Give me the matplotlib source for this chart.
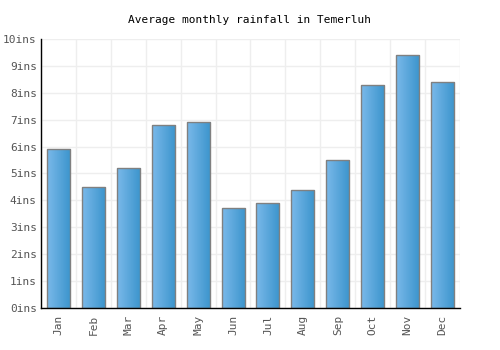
import numpy as np
import matplotlib
matplotlib.use('Agg')
import matplotlib.pyplot as plt
from matplotlib.colors import LinearSegmentedColormap

months = ['Jan', 'Feb', 'Mar', 'Apr', 'May', 'Jun',
          'Jul', 'Aug', 'Sep', 'Oct', 'Nov', 'Dec']
rainfall = [5.9, 4.5, 5.2, 6.8, 6.9, 3.7, 3.9, 4.4, 5.5, 8.3, 9.4, 8.4]
yticks = list(range(0, 11))
ylabels = [f'{v}ins' for v in yticks]

plt.rcParams['font.family'] = ['DejaVu Sans Mono']

fig = plt.figure(figsize=(5, 3.5), dpi=100)
ax = fig.add_axes([0.082, 0.12, 0.838, 0.769])

x = np.arange(len(months))
bars = ax.bar(x, rainfall, width=0.66, color='none', edgecolor='#808080',
              linewidth=1, zorder=3)

# gradient fill, light on the left, darker on the right
cmap = LinearSegmentedColormap.from_list('rain', ['#7ab9ea', '#3b94cc'])
grad = np.linspace(0, 1, 64).reshape(1, -1)
for b in bars:
    x0, y0 = b.get_x(), b.get_y()
    w, h = b.get_width(), b.get_height()
    im = ax.imshow(grad, cmap=cmap, aspect='auto',
                   extent=[x0, x0 + w, y0, y0 + h], zorder=2)
    im.set_clip_path(b)

ax.set_xlim(-0.5, len(months) - 0.5)
ax.set_ylim(0, 10)
ax.set_xticks(x)
ax.set_xticklabels(months, rotation=90)
ax.set_xticks(np.arange(-0.5, len(months)), minor=True)
ax.set_yticks(yticks)
ax.set_yticklabels(ylabels)

ax.grid(which='minor', axis='x', color='#eeeeee', linewidth=1, zorder=0)
ax.grid(which='major', axis='y', color='#eeeeee', linewidth=1, zorder=0)
ax.tick_params(axis='both', which='both', length=0, labelsize=8,
               colors='#555555')
ax.tick_params(axis='y', pad=3)
ax.tick_params(axis='x', pad=5)

for s in ['top', 'right']:
    ax.spines[s].set_visible(False)
for s in ['left', 'bottom']:
    ax.spines[s].set_color('black')
    ax.spines[s].set_linewidth(1)
    ax.spines[s].set_zorder(4)

fig.text(0.5, 0.943, 'Average monthly rainfall in Temerluh', ha='center',
         va='center', fontsize=8, color='black')

fig.savefig('out.png', dpi=100)
